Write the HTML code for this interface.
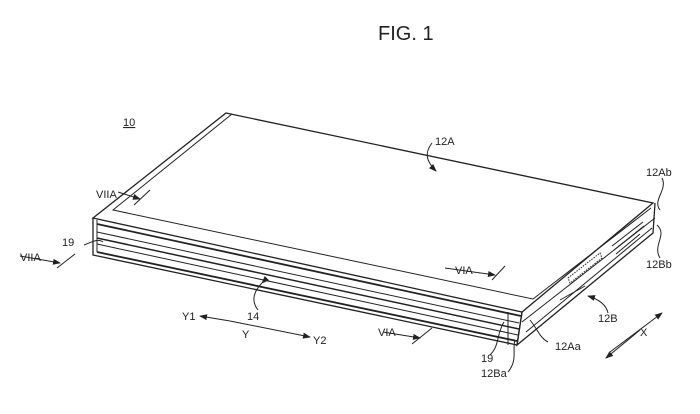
<!DOCTYPE html>
<html><head><style>
html,body{margin:0;padding:0;background:#fff;width:700px;height:414px;overflow:hidden}
svg{display:block}
text{font-family:"Liberation Sans",sans-serif;fill:#222}
</style></head><body>
<svg width="700" height="414" viewBox="0 0 700 414" xmlns="http://www.w3.org/2000/svg">
<defs><marker id="a" markerWidth="8" markerHeight="6" refX="7" refY="3" orient="auto"><path d="M0,0 L8,3 L0,6 Z" fill="#222"/></marker></defs>
<text x="378" y="40" font-size="20">FIG. 1</text>
<text x="123" y="126" font-size="11" text-decoration="underline">10</text>
<g stroke="#222" fill="none" stroke-width="1">
<path d="M226,113 L653,203 L522,312 L93,218 Z" stroke-width="1.3"/>
<path d="M232,114 L113,210 L533,299 L651,208"/>
<path d="M93,218 L93,255 L517,345 L522,312" stroke-width="1.3"/>
<path d="M97,220 L97,252"/>
<path d="M97,224 L521,316" stroke-width="1.8"/>
<path d="M97,232 L519,323"/>
<path d="M97,238 L519,329" stroke-width="1.5"/>
<path d="M97,244 L518,335"/>
<path d="M97,252 L517,341" stroke-width="1.8"/>
<path d="M508,312 L508,345"/>
<path d="M522,312 L517,345 L653,233 L655,203" stroke-width="1.3"/>
<path d="M522,322 L655,218"/>
<path d="M526,332 L652,228"/>
<path d="M568,278 L600,253 L602,258 L570,283 Z" stroke-dasharray="1.5 1.2"/>
<path d="M612,246 L643,222 M614,250 L644,226 M616,254 L640,234"/>
<path d="M560,300 L585,286"/>
<path d="M432,143 C425,152 425,160 436,171" marker-end="url(#a)"/>
<path d="M662,178 C668,190 652,200 660,210"/>
<path d="M657,225 C668,235 652,245 660,258"/>
<path d="M608,313 C606,304 598,299 588,296" marker-end="url(#a)"/>
<path d="M530,320 C538,330 540,338 548,342"/>
<path d="M103,242 C98,238 92,242 84,245"/>
<path d="M504,322 C496,335 500,345 490,355"/>
<path d="M515,340 C512,350 518,360 508,372"/>
<path d="M262,283 C255,290 250,300 258,310" marker-start="url(#a)"/>
<path d="M20,256 L60,263" marker-end="url(#a)"/><path d="M75,254 L57,268"/>
<path d="M445,268 L495,275" marker-end="url(#a)"/><path d="M505,266 L492,280"/>
<path d="M383,332 L420,338" marker-end="url(#a)"/><path d="M432,328 L412,344"/>
<path d="M118,192 L140,199" marker-end="url(#a)"/><path d="M150,190 L134,205"/>
<path d="M230,321 L200,316" marker-end="url(#a)"/><path d="M230,321 L310,337" marker-end="url(#a)"/>
<path d="M610,352 L662,313" marker-end="url(#a)"/><path d="M640,330 L606,358" marker-end="url(#a)"/>
</g>
<g font-size="11">
<text x="435" y="145">12A</text>
<text x="646" y="176">12Ab</text>
<text x="646" y="268">12Bb</text>
<text x="598" y="322">12B</text>
<text x="555" y="350">12Aa</text>
<text x="481" y="362">19</text>
<text x="481" y="377">12Ba</text>
<text x="62" y="246">19</text>
<text x="96" y="198">VIIA</text>
<text x="20" y="261">VIIA</text>
<text x="455" y="274">VIA</text>
<text x="378" y="336">VIA</text>
<text x="247" y="320">14</text>
<text x="182" y="320">Y1</text>
<text x="242" y="338">Y</text>
<text x="313" y="344">Y2</text>
<text x="640" y="336">X</text>
</g>
</svg>
</body></html>
